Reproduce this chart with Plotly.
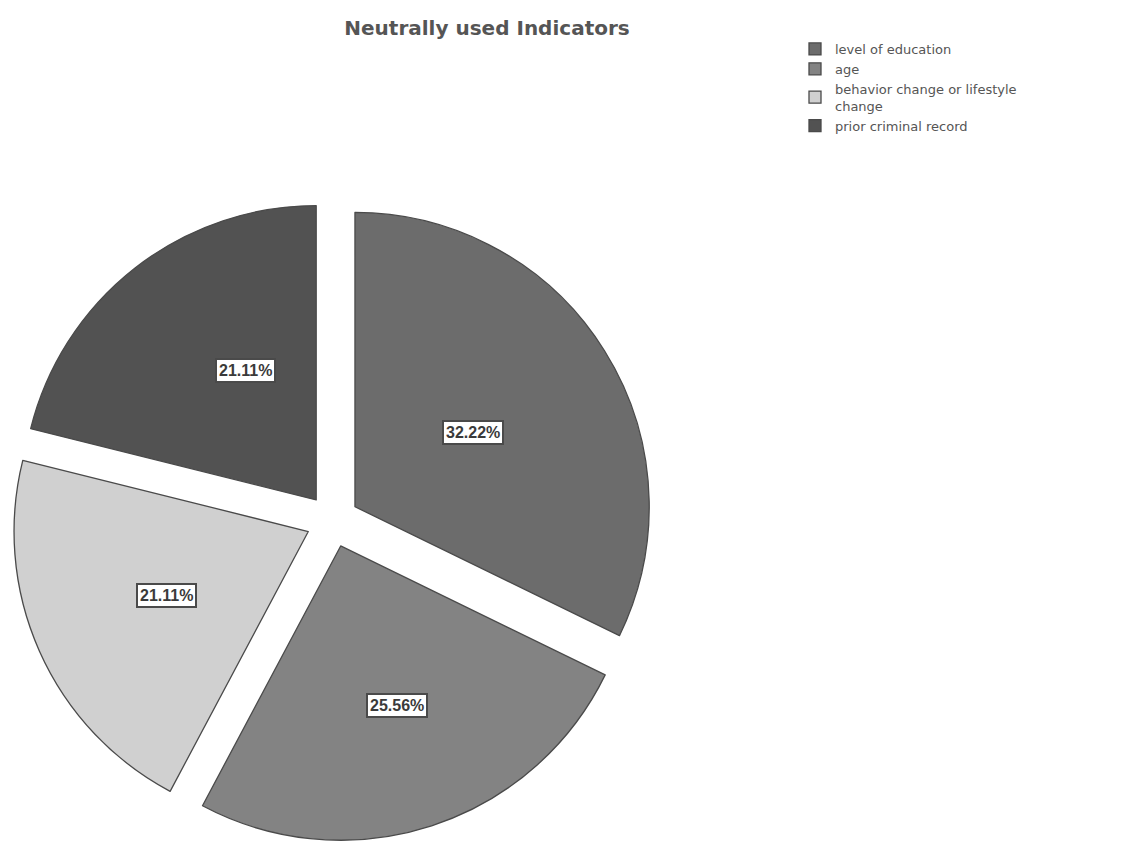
import math
import plotly.graph_objects as go

# ---- data ----
categories = ["level of education", "age", "behavior change or lifestyle change", "prior criminal record"]
legend_labels = ["level of education", "age", "behavior change or lifestyle<br>change", "prior criminal record"]
percentages = [32.22, 25.56, 21.11, 21.11]
label_texts = ["32.22%", "25.56%", "21.11%", "21.11%"]

# ---- style ----
colors = ["#6c6c6c", "#838383", "#d0d0d0", "#525252"]
pull = 0.09
label_radius = [0.475, 0.615, 0.64, 0.56]  # fraction of radius for label boxes

W, H = 1143, 842
dom_x = [10.0 / W, 655.0 / W]
dom_y = [1 - 841.5 / H, 1 - 200.0 / H]

fig = go.Figure()
fig.add_trace(go.Pie(
    labels=legend_labels,
    values=percentages,
    sort=False,
    direction="clockwise",
    rotation=0,
    pull=[pull] * len(percentages),
    marker=dict(colors=colors, line=dict(color="#4a4a4a", width=1.3)),
    textinfo="none",
    hoverinfo="label+percent",
    domain=dict(x=dom_x, y=dom_y),
))

# label boxes positioned from the pie geometry (as plotly computes it)
box_w = (dom_x[1] - dom_x[0]) * W
box_h = (dom_y[1] - dom_y[0]) * H
r = min(box_w, box_h) / (2 + 2 * pull)
cx = (dom_x[0] + dom_x[1]) / 2 * W
cy = H * (1 - dom_y[0]) - box_h / 2
total = sum(percentages)
cum = 0.0
for val, txt, f in zip(percentages, label_texts, label_radius):
    mid = (cum + val / 2) / total * 2 * math.pi
    cum += val
    d = (pull + f) * r
    px = cx + d * math.sin(mid)
    py = cy - d * math.cos(mid)
    fig.add_annotation(
        x=px / W, y=1 - py / H, xref="paper", yref="paper",
        text="<b>" + txt + "</b>", showarrow=False,
        font=dict(family="Liberation Sans, Arial", size=16, color="#3a3a3a"),
        bgcolor="white", bordercolor="#4a4a4a", borderwidth=2, borderpad=2,
    )

fig.update_layout(
    width=W, height=H,
    margin=dict(l=0, r=0, t=0, b=0),
    paper_bgcolor="white",
    plot_bgcolor="white",
    title=dict(
        text="<b>Neutrally used Indicators</b>",
        x=487 / W, xanchor="center",
        y=1 - 28 / H, yanchor="middle",
        font=dict(family="DejaVu Sans", size=20, color="#555555"),
    ),
    legend=dict(
        x=795 / W, y=1 - 34 / H, xanchor="left", yanchor="top",
        font=dict(family="DejaVu Sans", size=13, color="#555555"),
        bgcolor="rgba(0,0,0,0)",
        tracegroupgap=0,
    ),
    showlegend=True,
)

fig.write_html("out.html")
